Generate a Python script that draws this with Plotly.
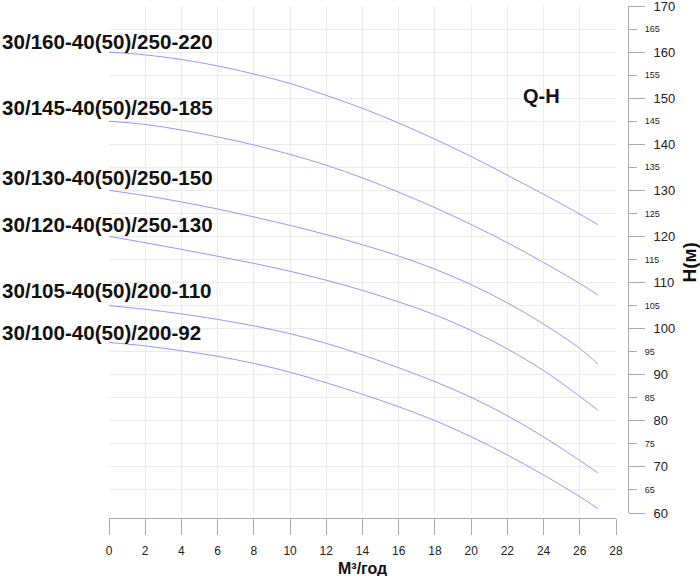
import plotly.graph_objects as go

# ---- data ----
flow = [0, 2, 4, 6, 8, 10, 12, 14, 16, 18, 20, 22, 24, 26, 27]
pump_names = [
    "30/160-40(50)/250-220",
    "30/145-40(50)/250-185",
    "30/130-40(50)/250-150",
    "30/120-40(50)/250-130",
    "30/105-40(50)/200-110",
    "30/100-40(50)/200-92",
]
head_220 = [160, 159.4, 158.4, 157.0, 155.25, 153.2, 150.6, 147.8, 144.6, 141.1, 137.35, 133.3, 129.15, 124.85, 122.55]
head_185 = [145, 144.3, 143.1, 141.6, 139.85, 137.8, 135.45, 132.7, 129.6, 126.25, 122.6, 118.65, 114.35, 109.8, 107.3]
head_150 = [130, 128.85, 127.5, 125.95, 124.25, 122.4, 120.4, 118.2, 115.75, 112.9, 109.55, 105.6, 101.0, 95.7, 92.3]
head_130 = [120, 118.65, 117.2, 115.7, 114.15, 112.45, 110.5, 108.3, 105.8, 103.0, 99.6, 95.6, 90.9, 85.3, 82.3]
head_110 = [105, 104.2, 103.2, 102.0, 100.6, 98.9, 96.8, 94.3, 91.5, 88.5, 85.1, 81.1, 76.5, 71.4, 68.7]
head_92 = [97, 96.25, 95.2, 94.0, 92.45, 90.55, 88.25, 85.75, 83.05, 80.05, 76.55, 72.6, 68.25, 63.55, 60.95]
heads = [head_220, head_185, head_150, head_130, head_110, head_92]

x_ticks = list(range(0, 29, 2))
y_major = list(range(60, 171, 10))
y_minor = list(range(65, 170, 10))

# label positions (data y of each label, x at left edge)
label_y = [162.2, 147.9, 132.7, 122.5, 108.2, 99.1]

FONT = "Liberation Sans, Arial, sans-serif"
LINE = "rgb(150,150,255)"
GRID = "#ebebeb"
AXIS = "#aaaaaa"

fig = go.Figure()
for name, h in zip(pump_names, heads):
    fig.add_trace(go.Scatter(x=flow, y=h, mode="lines", name=name,
                             line=dict(color=LINE, width=1, shape="spline", smoothing=1),
                             showlegend=False, hoverinfo="x+y"))
fig.add_trace(go.Scatter(x=[], y=[], yaxis="y2", showlegend=False))

annotations = []
for name, ly in zip(pump_names, label_y):
    annotations.append(dict(text="<b>" + name + "</b>", x=-109 / 519, xref="paper", y=ly, yref="y",
                            xanchor="left", yanchor="middle", showarrow=False,
                            font=dict(family=FONT, size=20.6, color="#111")))
annotations.append(dict(text="<b>Q-H</b>", x=23.9, y=150.4, xref="x", yref="y",
                        xanchor="center", yanchor="middle",
                        showarrow=False, font=dict(family=FONT, size=20, color="#111")))
annotations.append(dict(text="<b>М³/год</b>", x=0.5, xref="x domain", y=-0.098, yref="paper",
                        xanchor="center", yanchor="middle", showarrow=False,
                        font=dict(family=FONT, size=16, color="#111")))
annotations.append(dict(text="<b>H(м)</b>", x=(689.5 - 109) / 519, xref="paper", y=0.498, yref="paper",
                        xanchor="center", yanchor="middle",
                        textangle=-90, showarrow=False,
                        font=dict(family=FONT, size=19, color="#111")))

fig.update_layout(
    width=700, height=576,
    margin=dict(l=109, r=72, t=6, b=58, autoexpand=False),
    paper_bgcolor="white", plot_bgcolor="white",
    font=dict(family=FONT, color="#222"),
    annotations=annotations,
    xaxis=dict(domain=[0, 507 / 519], range=[0, 28], tickvals=x_ticks,
               anchor="free", position=0, automargin=False,
               showgrid=True, gridcolor=GRID, gridwidth=1, zeroline=False,
               showline=True, linecolor=AXIS, linewidth=1,
               ticks="outside", ticklen=16, tickcolor=AXIS, tickwidth=1,
               ticklabelstandoff=6, ticklabeloverflow="allow",
               tickfont=dict(size=12, color="#222")),
    yaxis=dict(domain=[5 / 512, 1], range=[60, 170], tickvals=y_major,
               anchor="free", position=1, side="right", automargin=False,
               showgrid=True, gridcolor=GRID, gridwidth=1, zeroline=False,
               showline=True, linecolor=AXIS, linewidth=1,
               ticks="outside", ticklen=16, tickcolor=AXIS, tickwidth=1,
               ticklabelstandoff=6, ticklabeloverflow="allow",
               tickfont=dict(size=13, color="#222")),
    yaxis2=dict(overlaying="y", range=[60, 170], tickvals=y_minor,
                anchor="free", position=1, side="right", automargin=False,
                showgrid=True, gridcolor=GRID, gridwidth=1, zeroline=False,
                showline=False,
                ticks="outside", ticklen=8, tickcolor=AXIS, tickwidth=1,
                ticklabelstandoff=6, ticklabeloverflow="allow",
                tickfont=dict(size=9, color="#222")),
)

fig.write_html("out.html")
